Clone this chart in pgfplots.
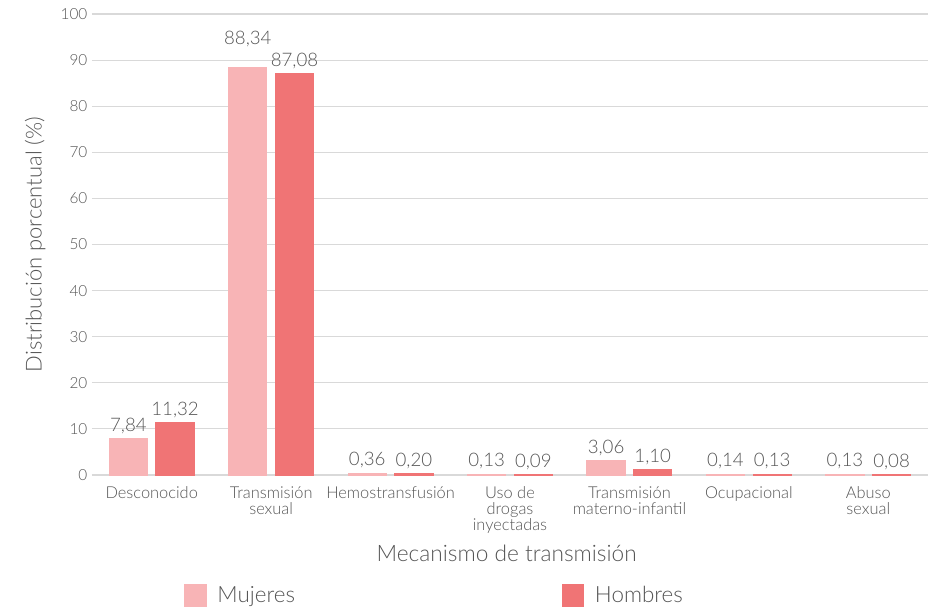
\documentclass[border=0pt]{standalone}
\usepackage{fontspec}
\setmainfont{Lato Light}
\usepackage{pgfplots}
\pgfplotsset{compat=1.18}
\definecolor{muj}{HTML}{F8B4B6}
\definecolor{hom}{HTML}{F07475}
\definecolor{txt}{HTML}{555555}
\definecolor{grd}{HTML}{D9D9D9}
\begin{document}
\begin{tikzpicture}
\useasboundingbox (0,0) rectangle (696.75pt,455.25pt);
\begin{axis}[
  at={(69pt,99pt)}, anchor=south west,
  scale only axis, width=627pt, height=345.75pt,
  ymin=0, ymax=100, ytick={0,10,...,100},
  xmin=-0.5, xmax=6.5, xtick={0,...,6},
  xticklabels={Desconocido, Transmisión\\sexual, Hemostransfusión, Uso de\\drogas\\inyectadas, Transmisión\\materno-infantil, Ocupacional, Abuso\\sexual},
  axis line style={draw=none}, major tick length=0pt,
  ymajorgrids, grid style={grd, line width=0.8pt},
  /pgf/number format/assume math mode=true,
  yticklabel style={font=\fontsize{11.5}{13}\selectfont, text=txt},
  xticklabel style={font=\fontsize{12.3}{12}\selectfont, text=txt, align=center, yshift=-5pt},
  ybar=6.5pt, bar width=28.5pt,
  nodes near coords={\pgfmathprintnumber[fixed,fixed zerofill,precision=2,use comma,assume math mode=true]{\pgfplotspointmeta}},
  nodes near coords style={font=\fontsize{14}{16}\selectfont, text=txt},
  xlabel={Mecanismo de transmisión},
  ylabel={Distribución porcentual (\%)},
  xlabel style={font=\fontsize{17}{19}\selectfont, text=txt, at={(axis description cs:0.496,-0.171)}, anchor=center},
  ylabel style={font=\fontsize{16.5}{19}\selectfont, text=txt, at={(axis description cs:-0.068,0.5)}, anchor=center},
  legend style={at={(0.105,-0.262)}, anchor=west, draw=none, fill=none, font=\fontsize{16.8}{19}\selectfont, text=txt, legend columns=2, /tikz/every odd column/.append style={column sep=6pt}, /tikz/every even column/.append style={column sep=198pt}},
  legend image code/.code={\fill[#1] (0pt,-8pt) rectangle (16pt,8pt);},
  clip=false,
]
\addplot[fill=muj, draw=muj, line width=1pt,
  visualization depends on={x \as \xval},
  nodes near coords style={yshift={(\xval==1)*12pt}}]
  coordinates {(0,7.84) (1,88.34) (2,0.36) (3,0.13) (4,3.06) (5,0.14) (6,0.13)};
\addplot[fill=hom, draw=hom, line width=1pt] coordinates {(0,11.32) (1,87.08) (2,0.20) (3,0.09) (4,1.10) (5,0.13) (6,0.08)};
\legend{Mujeres, Hombres}
\end{axis}
\end{tikzpicture}
\end{document}
